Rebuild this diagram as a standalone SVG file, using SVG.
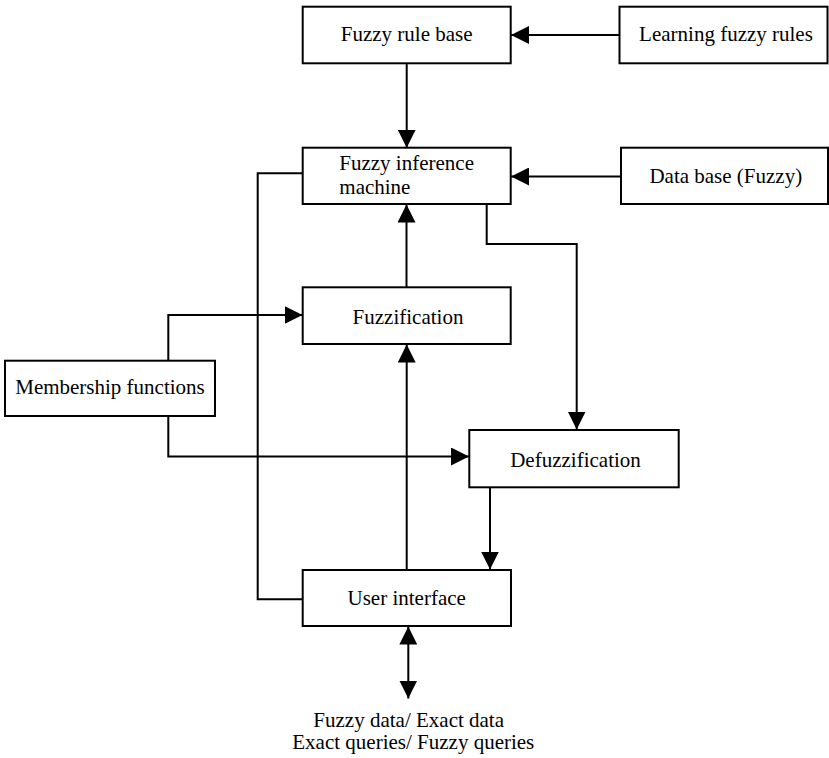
<svg xmlns="http://www.w3.org/2000/svg" width="829" height="758" viewBox="0 0 829 758">
<style>
.box{fill:#fff;stroke:#000;stroke-width:2}
.t{font-family:'Liberation Serif','Times New Roman','DejaVu Serif',serif;font-size:21px;fill:#000}
.c{text-anchor:middle}
.ln{fill:none;stroke:#000;stroke-width:2}
</style>
<defs>
<marker id="ah" markerUnits="userSpaceOnUse" markerWidth="19" markerHeight="18" refX="18" refY="9" orient="auto-start-reverse">
<path d="M0,0 L18,9 L0,18 Z" fill="#000"/>
</marker>
</defs>
<g id="connectors">
<path class="ln" d="M619.5,35 H511" marker-end="url(#ah)"/>
<path class="ln" d="M406.7,63.3 V147.7" marker-end="url(#ah)"/>
<path class="ln" d="M621,176.5 H511" marker-end="url(#ah)"/>
<path class="ln" d="M406.5,287.3 V204.5" marker-end="url(#ah)"/>
<path class="ln" d="M486.7,204 V244 H576.7 V429.5" marker-end="url(#ah)"/>
<path class="ln" d="M168.3,360.7 V315 H302.5" marker-end="url(#ah)"/>
<path class="ln" d="M168.3,416 V456.5 H469" marker-end="url(#ah)"/>
<path class="ln" d="M406.7,570 V344.5" marker-end="url(#ah)"/>
<path class="ln" d="M490,487.3 V569.5" marker-end="url(#ah)"/>
<path class="ln" d="M302.7,173.3 H257.7 V599.3 H302.7"/>
<path class="ln" d="M408.3,626.5 V698.5" marker-start="url(#ah)" marker-end="url(#ah)"/>
</g>
<g id="rule-base">
<rect class="box" x="302.7" y="6.7" width="208" height="56.6"/>
<text class="t c" font-family="Liberation Serif" x="406.7" y="41">Fuzzy rule base</text>
</g>
<g id="learning">
<rect class="box" x="619.5" y="6.7" width="208" height="56.6"/>
<text class="t c" font-family="Liberation Serif" x="726" y="41">Learning fuzzy rules</text>
</g>
<g id="inference">
<rect class="box" x="302.7" y="147.7" width="208" height="56.3"/>
<text class="t" font-family="Liberation Serif" x="339.3" y="170">Fuzzy inference</text>
<text class="t" font-family="Liberation Serif" x="339.3" y="194.3">machine</text>
</g>
<g id="database">
<rect class="box" x="621" y="147.7" width="207" height="56.3"/>
<text class="t c" font-family="Liberation Serif" x="725.8" y="183">Data base (Fuzzy)</text>
</g>
<g id="fuzzification">
<rect class="box" x="302.7" y="287.3" width="208" height="56.7"/>
<text class="t c" font-family="Liberation Serif" x="408" y="324">Fuzzification</text>
</g>
<g id="membership">
<rect class="box" x="5" y="360.7" width="210" height="55.3"/>
<text class="t c" font-family="Liberation Serif" x="110" y="394">Membership functions</text>
</g>
<g id="defuzzification">
<rect class="box" x="469.3" y="430" width="209.4" height="57.3"/>
<text class="t c" font-family="Liberation Serif" x="575.5" y="466.7">Defuzzification</text>
</g>
<g id="user-interface">
<rect class="box" x="302.7" y="570" width="208.3" height="56"/>
<text class="t c" font-family="Liberation Serif" x="406.7" y="605">User interface</text>
</g>
<g id="io-label">
<text class="t c" font-family="Liberation Serif" x="408.7" y="726.5">Fuzzy data/ Exact data</text>
<text class="t c" font-family="Liberation Serif" x="413.3" y="749">Exact queries/ Fuzzy queries</text>
</g>
</svg>
